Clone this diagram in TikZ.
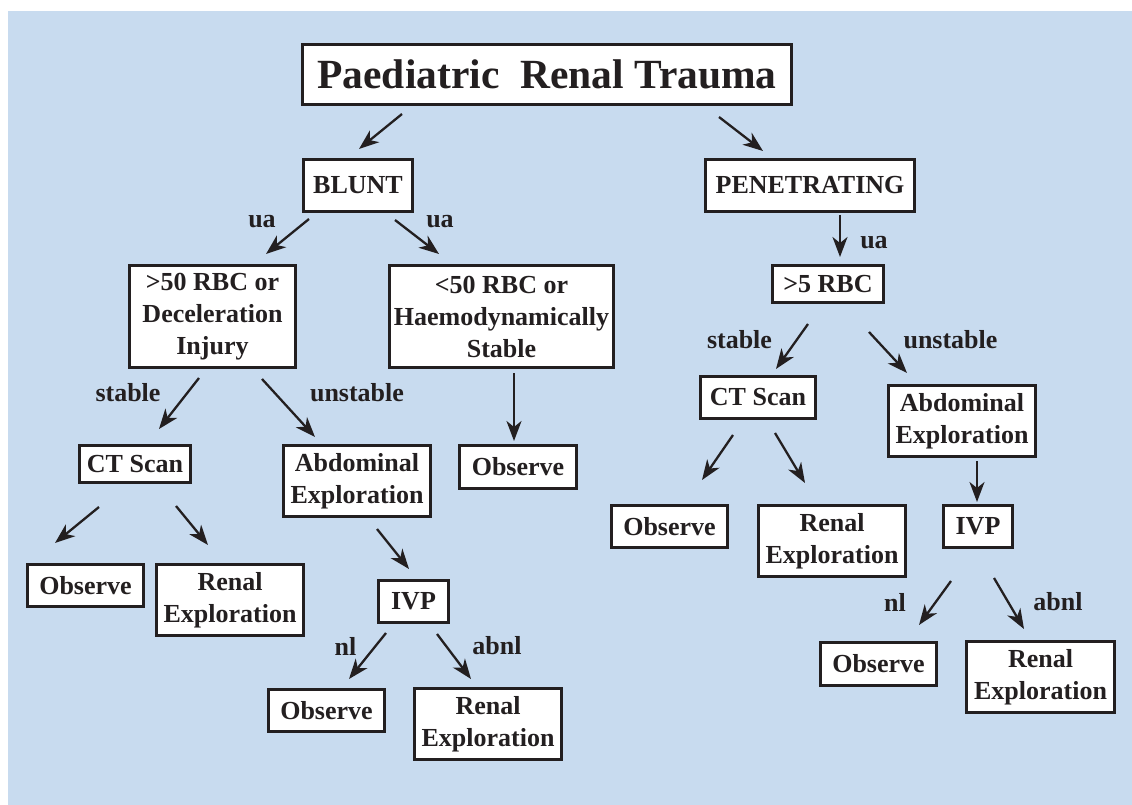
\documentclass[tikz,border=0pt]{standalone}
\usepackage{fontspec}
\setmainfont{Liberation Serif}
\usetikzlibrary{arrows.meta}
\definecolor{bg}{RGB}{200,219,239}
\definecolor{ink}{RGB}{35,31,32}
\begin{document}
\begin{tikzpicture}[x=1pt,y=-1pt,
  box/.style={draw=ink,line width=2.7pt,fill=white,inner sep=0pt,align=center,text=ink,font=\fontsize{26}{32}\selectfont\bfseries},
  lbl/.style={inner sep=0pt,text=ink,font=\fontsize{26}{32}\selectfont\bfseries},
  arr/.style={draw=ink,line width=2.3pt,-{Stealth[length=20pt,width=15pt,inset=6pt]}}]
\useasboundingbox (0,0) rectangle (1132,805);
\fill[bg] (8,11) rectangle (1132,805);

% boxes
\node[box,minimum width=489pt,minimum height=60pt,font=\fontsize{41.5}{48}\selectfont\bfseries] (title) at (547,74.5) {Paediatric\ \ Renal Trauma};
\node[box,minimum width=109pt,minimum height=52pt] (blunt) at (358,185.5) {BLUNT};
\node[box,minimum width=209pt,minimum height=52pt] (pen) at (810,185.5) {PENETRATING};
\node[box,minimum width=166pt,minimum height=102pt] (gt50) at (212.5,316.5) {>50 RBC or\\Deceleration\\Injury};
\node[box,minimum width=224pt,minimum height=102pt] (lt50) at (501.5,316.5) {<50 RBC or\\Haemodynamically\\Stable};
\node[box,minimum width=111pt,minimum height=37pt] (gt5) at (828,284) {>5 RBC};
\node[box,minimum width=111pt,minimum height=37pt] (ctL) at (135,464) {CT Scan};
\node[box,minimum width=147pt,minimum height=71pt] (abdL) at (357,481) {Abdominal\\Exploration};
\node[box,minimum width=117pt,minimum height=43pt] (obsM) at (518,467) {Observe};
\node[box,minimum width=115pt,minimum height=42pt] (ctR) at (758,397.5) {CT Scan};
\node[box,minimum width=147pt,minimum height=71pt] (abdR) at (962,421) {Abdominal\\Exploration};
\node[box,minimum width=116pt,minimum height=42pt] (obsL) at (85.5,585.5) {Observe};
\node[box,minimum width=147pt,minimum height=71pt] (renL) at (230,600) {Renal\\Exploration};
\node[box,minimum width=70pt,minimum height=42pt] (ivpL) at (413.5,601.5) {IVP};
\node[box,minimum width=116pt,minimum height=42pt] (obsR) at (669.5,526.5) {Observe};
\node[box,minimum width=147pt,minimum height=71pt] (renR) at (832,541) {Renal\\Exploration};
\node[box,minimum width=69pt,minimum height=42pt] (ivpR) at (978,526.5) {IVP};
\node[box,minimum width=116pt,minimum height=42pt] (obsLB) at (326.5,710.5) {Observe};
\node[box,minimum width=147pt,minimum height=71pt] (renLB) at (488,724) {Renal\\Exploration};
\node[box,minimum width=116pt,minimum height=43pt] (obsRB) at (878.5,664) {Observe};
\node[box,minimum width=148pt,minimum height=71pt] (renRB) at (1040.5,677) {Renal\\Exploration};

% labels
\node[lbl] (l1) at (262,222) {ua};
\node[lbl] (l2) at (440,222) {ua};
\node[lbl] (l3) at (128,393) {stable};
\node[lbl] (l4) at (357,393) {unstable};
\node[lbl] (l5) at (874,243) {ua};
\node[lbl] (l6) at (739.5,340) {stable};
\node[lbl] (l7) at (950.5,340) {unstable};
\node[lbl] (l8) at (345.5,646) {nl};
\node[lbl] (l9) at (497,646) {abnl};
\node[lbl] (l10) at (895,602) {nl};
\node[lbl] (l11) at (1058,602) {abnl};

% arrow end points
\coordinate (a1s) at (402,114);  \coordinate (a1e) at (359,149);
\coordinate (a2s) at (719,117);  \coordinate (a2e) at (763,151);
\coordinate (a3s) at (309,219);  \coordinate (a3e) at (266,254);
\coordinate (a4s) at (395,220);  \coordinate (a4e) at (439,254);
\coordinate (a5s) at (199,378);  \coordinate (a5e) at (159,429);
\coordinate (a6s) at (262,379);  \coordinate (a6e) at (315,437);
\coordinate (a7s) at (514,373);  \coordinate (a7e) at (514,441);
\coordinate (a8s) at (840,215);  \coordinate (a8e) at (840,257);
\coordinate (a9s) at (808,324);  \coordinate (a9e) at (776,369);
\coordinate (a10s) at (869,332); \coordinate (a10e) at (907,373);
\coordinate (a11s) at (99,507);  \coordinate (a11e) at (55,543);
\coordinate (a12s) at (176,506); \coordinate (a12e) at (208,545);
\coordinate (a13s) at (377,529); \coordinate (a13e) at (409,569);
\coordinate (a14s) at (386,633); \coordinate (a14e) at (349,679);
\coordinate (a15s) at (437,634); \coordinate (a15e) at (471,679);
\coordinate (a16s) at (733,435); \coordinate (a16e) at (702,480);
\coordinate (a17s) at (775,433); \coordinate (a17e) at (805,483);
\coordinate (a18s) at (977,461); \coordinate (a18e) at (977,502);
\coordinate (a19s) at (951,581); \coordinate (a19e) at (919,625);
\coordinate (a20s) at (994,578); \coordinate (a20e) at (1024,629);

\foreach \i in {1,...,20} {\draw[arr] (a\i s) -- (a\i e);}
\end{tikzpicture}
\end{document}
